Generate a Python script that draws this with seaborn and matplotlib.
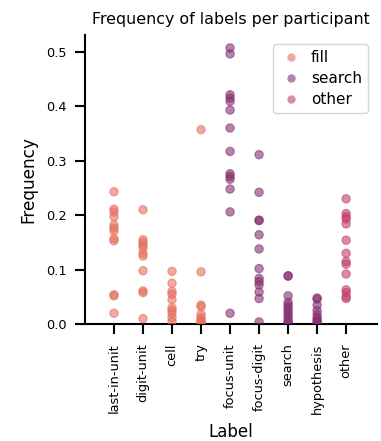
import numpy as np
import pandas as pd
import matplotlib
matplotlib.use("Agg")
import matplotlib.pyplot as plt
from matplotlib.lines import Line2D
import seaborn as sns

categories = ["last-in-unit", "digit-unit", "cell", "try", "focus-unit",
              "focus-digit", "search", "hypothesis", "other"]
groups = ["fill", "fill", "fill", "fill", "search", "search", "search", "search", "other"]

last_in_unit = [0.243, 0.211, 0.206, 0.197, 0.182, 0.176, 0.171, 0.157, 0.153, 0.054, 0.052, 0.020]
digit_unit = [0.210, 0.155, 0.150, 0.145, 0.140, 0.130, 0.125, 0.098, 0.061, 0.058, 0.010]
cell = [0.097, 0.075, 0.060, 0.055, 0.045, 0.030, 0.025, 0.020, 0.012, 0.005]
try_ = [0.357, 0.096, 0.035, 0.032, 0.018, 0.012, 0.008, 0.005, 0.003]
focus_unit = [0.507, 0.496, 0.421, 0.415, 0.409, 0.393, 0.360, 0.317, 0.276, 0.271,
              0.266, 0.248, 0.206, 0.020]
focus_digit = [0.311, 0.242, 0.191, 0.190, 0.164, 0.138, 0.102, 0.084, 0.078, 0.072,
               0.059, 0.047, 0.004]
search = [0.089, 0.088, 0.052, 0.040, 0.035, 0.030, 0.025, 0.020, 0.015, 0.010, 0.005, 0.003]
hypothesis = [0.048, 0.046, 0.035, 0.025, 0.018, 0.012, 0.008, 0.005, 0.002]
other = [0.230, 0.203, 0.197, 0.193, 0.184, 0.154, 0.130, 0.115, 0.110, 0.092,
         0.063, 0.058, 0.050, 0.047]

values = [last_in_unit, digit_unit, cell, try_, focus_unit, focus_digit, search, hypothesis, other]
hue_order = ["fill", "search", "other"]

rows = []
for cat, grp, vals in zip(categories, groups, values):
    for v in vals:
        rows.append({"Label": cat, "Frequency": v, "type": grp})
df = pd.DataFrame(rows)

sns.set_theme(style="ticks", context="notebook")
plt.rcParams['font.family'] = ['DejaVu Sans']
plt.rcParams.update({
    "text.color": "black", "axes.labelcolor": "black",
    "xtick.color": "black", "ytick.color": "black",
    "axes.edgecolor": "black", "axes.linewidth": 1.5,
    "xtick.major.size": 7.2, "ytick.major.size": 7.2,
    "xtick.major.width": 1.5, "ytick.major.width": 1.5,
    "xtick.major.pad": 6.5, "ytick.major.pad": 6,
})

flare = sns.color_palette("flare", 3)
palette = {"fill": flare[0], "other": flare[1], "search": flare[2]}

fig = plt.figure(figsize=(3.81, 4.41), dpi=100)
ax = fig.add_axes([0.223, 0.265, 0.767, 0.656])
sns.stripplot(data=df, x="Label", y="Frequency", hue="type", order=categories,
              hue_order=hue_order, palette=palette,
              jitter=False, alpha=0.6, size=6, linewidth=0.8, ax=ax, legend=False)
for c in ax.collections:
    c.set_edgecolor(c.get_facecolor())

ax.set_xlim(-1.0, 9.07)
ax.set_ylim(0, 0.531)
ax.set_yticks([0.0, 0.1, 0.2, 0.3, 0.4, 0.5])
ax.tick_params(axis="x", rotation=90, labelsize=9.3)
ax.tick_params(axis="y", labelsize=9.3)
ax.set_xlabel("Label", fontsize=12, labelpad=7)
ax.set_ylabel("Frequency", fontsize=12.2, labelpad=6)
ax.set_title("Frequency of labels per participant", fontsize=11.4, pad=8)
sns.despine(ax=ax)

handles = [Line2D([], [], marker="o", linestyle="", color=palette[h], alpha=0.6,
                  markersize=6, markeredgewidth=0) for h in hue_order]
leg = ax.legend(handles, hue_order, loc="upper right", fontsize=11, frameon=True,
                borderaxespad=0.6, handlelength=1.6, handletextpad=0.5,
                labelspacing=0.4)
fig.savefig("out.png", dpi=100)
